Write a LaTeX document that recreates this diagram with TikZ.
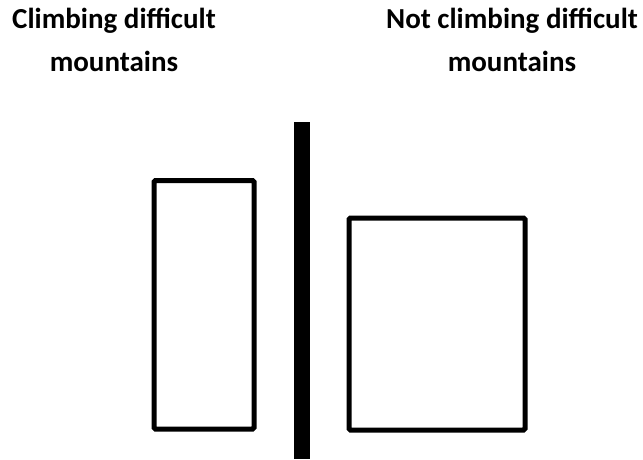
\documentclass[tikz,border=0pt]{standalone}
\usepackage{fontspec}
\setmainfont{Carlito}
\usetikzlibrary{positioning}

\begin{document}
\begin{tikzpicture}[
  x=1pt, y=-1pt,
  title/.style={font=\fontsize{29}{43}\selectfont\bfseries, align=center,
                inner sep=0pt, anchor=north},
  box/.style={rectangle, rounded corners=1.5pt, draw=black, line width=5pt,
              inner sep=0pt, fill=white},
  wall/.style={rectangle, fill=black, inner sep=0pt}
]
\useasboundingbox (0,0) rectangle (643,459);
\node (lefttitle) [title] at (114,8) {Climbing difficult\\ mountains};
\node (righttitle) [title] at (512,8) {Not climbing difficult\\ mountains};
\node (wall) [wall, minimum width=16pt, minimum height=337pt] at (302,290.5) {};
\node (tall) [box, minimum width=100pt, minimum height=248.5pt] at (204,304.75) {};
\node (wide) [box, minimum width=176pt, minimum height=212pt] at (437,324) {};
\end{tikzpicture}
\end{document}
